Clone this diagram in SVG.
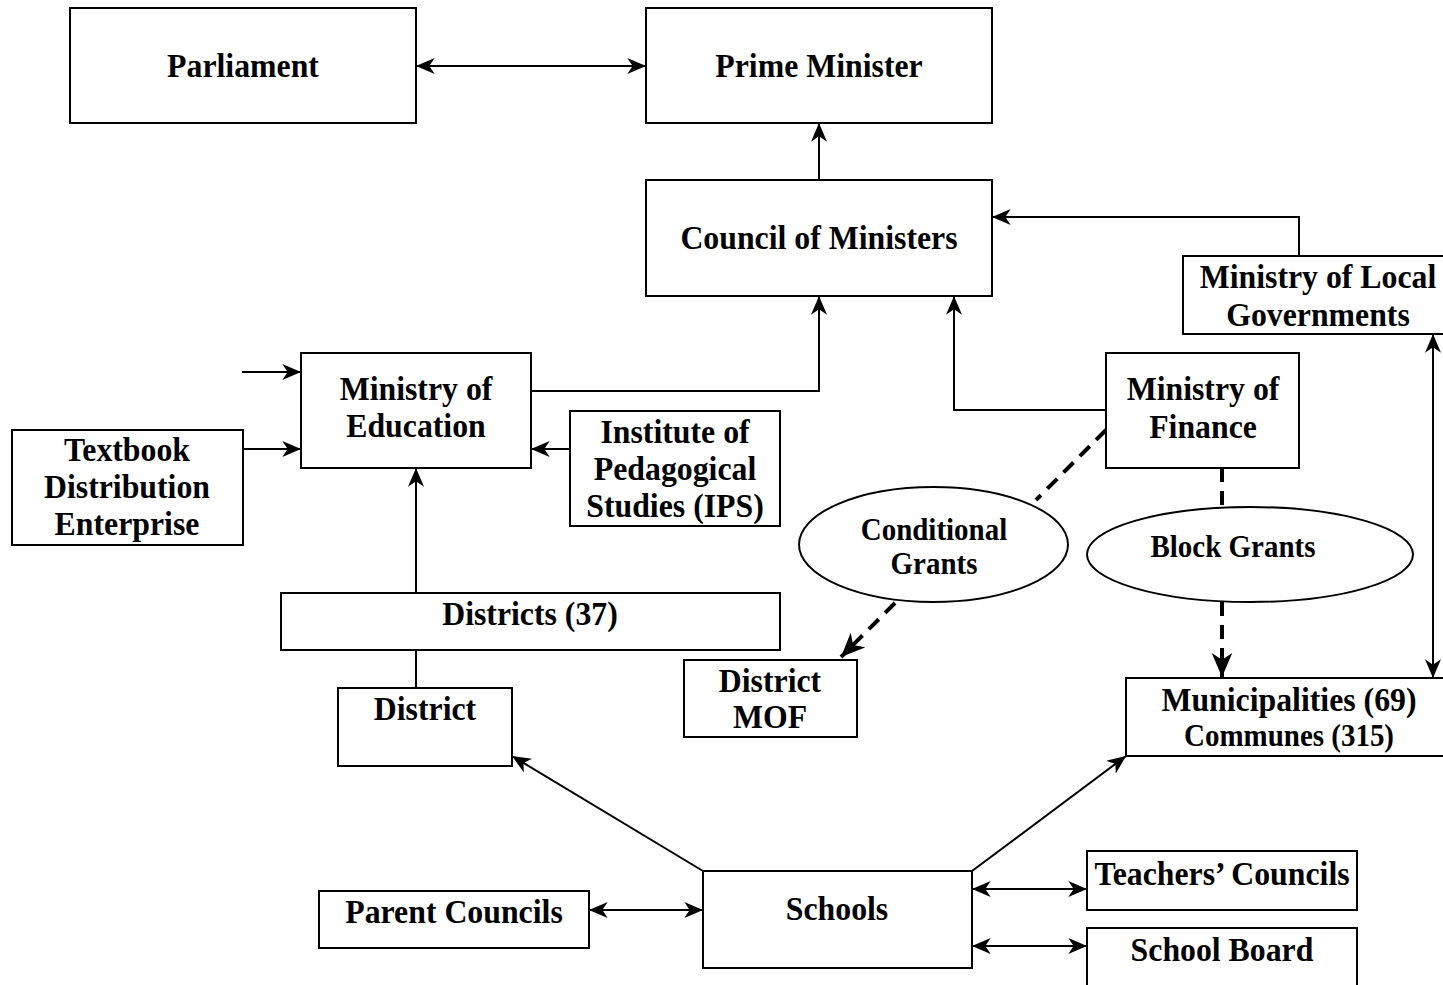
<svg xmlns="http://www.w3.org/2000/svg" width="1443" height="985" viewBox="0 0 1443 985">
<style>
.box{fill:#fff;stroke:#000;stroke-width:2}
.ell{fill:#fff;stroke:#000;stroke-width:2}
.t{font-family:"Liberation Serif","Times New Roman",serif;font-weight:bold;font-size:34px;text-anchor:middle;fill:#000}
.ts{font-size:31px}
.c{fill:none;stroke:#000;stroke-width:2}
.d{fill:none;stroke:#000;stroke-width:4;stroke-dasharray:14 9}
</style>
<defs>
<marker id="ah" viewBox="0 0 14 12" refX="14" refY="6" markerWidth="19" markerHeight="16" markerUnits="userSpaceOnUse" orient="auto-start-reverse">
<path d="M0,0 L14,6 L0,12 L4,6 z" fill="#000"/>
</marker>
<marker id="ahb" viewBox="0 0 14 12" refX="14" refY="6" markerWidth="24" markerHeight="22" markerUnits="userSpaceOnUse" orient="auto">
<path d="M0,0 L14,6 L0,12 L4,6 z" fill="#000"/>
</marker>
</defs>
<rect width="1443" height="985" fill="#fff"/>

<g id="connectors">
<path class="c" d="M416,66 H646" marker-start="url(#ah)" marker-end="url(#ah)"/>
<path class="c" d="M819,180 V123" marker-end="url(#ah)"/>
<path class="c" d="M1299,256 V217 H992" marker-end="url(#ah)"/>
<path class="c" d="M531,391 H819 V296" marker-end="url(#ah)"/>
<path class="c" d="M1106,410 H954 V296" marker-end="url(#ah)"/>
<path class="c" d="M242,372 H301" marker-end="url(#ah)"/>
<path class="c" d="M243,449 H301" marker-end="url(#ah)"/>
<path class="c" d="M570,449 H531" marker-end="url(#ah)"/>
<path class="c" d="M416,593 V468" marker-end="url(#ah)"/>
<path class="c" d="M416,650 V688"/>
<path class="d" d="M1106,430 L1036,500"/>
<path class="d" d="M895,603 L841,657" marker-end="url(#ahb)"/>
<path class="d" d="M1222,468 V507"/>
<path class="d" d="M1222,602 V677" marker-end="url(#ahb)"/>
<path class="c" d="M1433,334 V678" marker-start="url(#ah)" marker-end="url(#ah)"/>
<path class="c" d="M703,871 L512,756" marker-end="url(#ah)"/>
<path class="c" d="M972,871 L1126,756" marker-end="url(#ah)"/>
<path class="c" d="M589,910 H703" marker-start="url(#ah)" marker-end="url(#ah)"/>
<path class="c" d="M972,889 H1087" marker-start="url(#ah)" marker-end="url(#ah)"/>
<path class="c" d="M972,946 H1087" marker-start="url(#ah)" marker-end="url(#ah)"/>
</g>

<g id="parliament">
<rect class="box" x="70" y="8" width="346" height="115"/>
<text class="t" transform="translate(243,77) scale(0.935,1)">Parliament</text>
</g>
<g id="prime-minister">
<rect class="box" x="646" y="8" width="346" height="115"/>
<text class="t" transform="translate(819,77) scale(0.935,1)">Prime Minister</text>
</g>
<g id="council-of-ministers">
<rect class="box" x="646" y="180" width="346" height="116"/>
<text class="t" transform="translate(819,249) scale(0.935,1)">Council of Ministers</text>
</g>
<g id="ministry-local-gov">
<rect class="box" x="1183" y="256" width="290" height="78"/>
<text class="t" transform="translate(1318,288) scale(0.935,1)"><tspan x="0" y="0">Ministry of Local</tspan><tspan x="0" y="38">Governments</tspan></text>
</g>
<g id="ministry-education">
<rect class="box" x="301" y="353" width="230" height="115"/>
<text class="t" transform="translate(416,400) scale(0.935,1)"><tspan x="0" y="0">Ministry of</tspan><tspan x="0" y="37">Education</tspan></text>
</g>
<g id="textbook">
<rect class="box" x="12" y="430" width="231" height="115"/>
<text class="t" transform="translate(127,461) scale(0.935,1)"><tspan x="0" y="0">Textbook</tspan><tspan x="0" y="37">Distribution</tspan><tspan x="0" y="74">Enterprise</tspan></text>
</g>
<g id="ips">
<rect class="box" x="570" y="411" width="210" height="115"/>
<text class="t" transform="translate(675,443) scale(0.935,1)"><tspan x="0" y="0">Institute of</tspan><tspan x="0" y="37">Pedagogical</tspan><tspan x="0" y="74">Studies (IPS)</tspan></text>
</g>
<g id="ministry-finance">
<rect class="box" x="1106" y="353" width="193" height="115"/>
<text class="t" transform="translate(1203,400) scale(0.935,1)"><tspan x="0" y="0">Ministry of</tspan><tspan x="0" y="38">Finance</tspan></text>
</g>
<g id="conditional-grants">
<ellipse class="ell" cx="933.5" cy="544.5" rx="134.5" ry="57.5"/>
<text class="t ts" transform="translate(934,540) scale(0.935,1)"><tspan x="0" y="0">Conditional</tspan><tspan x="0" y="34">Grants</tspan></text>
</g>
<g id="block-grants">
<ellipse class="ell" cx="1250" cy="554.5" rx="163" ry="47.5"/>
<text class="t ts" transform="translate(1233,557) scale(0.935,1)">Block Grants</text>
</g>
<g id="districts-37">
<rect class="box" x="281" y="593" width="499" height="57"/>
<text class="t" transform="translate(530,625) scale(0.935,1)">Districts (37)</text>
</g>
<g id="district">
<rect class="box" x="338" y="688" width="174" height="78"/>
<text class="t" transform="translate(425,720) scale(0.935,1)">District</text>
</g>
<g id="district-mof">
<rect class="box" x="684" y="660" width="173" height="77"/>
<text class="t" transform="translate(770,692) scale(0.935,1)"><tspan x="0" y="0">District</tspan><tspan x="0" y="36">MOF</tspan></text>
</g>
<g id="municipalities">
<rect class="box" x="1126" y="678" width="340" height="78"/>
<text class="t" transform="translate(1289,711) scale(0.935,1)">Municipalities (69)</text>
<text class="t ts" transform="translate(1289,746) scale(0.935,1)">Communes (315)</text>
</g>
<g id="schools">
<rect class="box" x="703" y="871" width="269" height="97"/>
<text class="t" transform="translate(837,920) scale(0.935,1)">Schools</text>
</g>
<g id="parent-councils">
<rect class="box" x="319" y="891" width="270" height="57"/>
<text class="t" transform="translate(454,923) scale(0.935,1)">Parent Councils</text>
</g>
<g id="teachers-councils">
<rect class="box" x="1087" y="851" width="270" height="59"/>
<text class="t" transform="translate(1222,885) scale(0.935,1)">Teachers’ Councils</text>
</g>
<g id="school-board">
<rect class="box" x="1087" y="928" width="270" height="80"/>
<text class="t" transform="translate(1222,961) scale(0.935,1)">School Board</text>
</g>
</svg>
